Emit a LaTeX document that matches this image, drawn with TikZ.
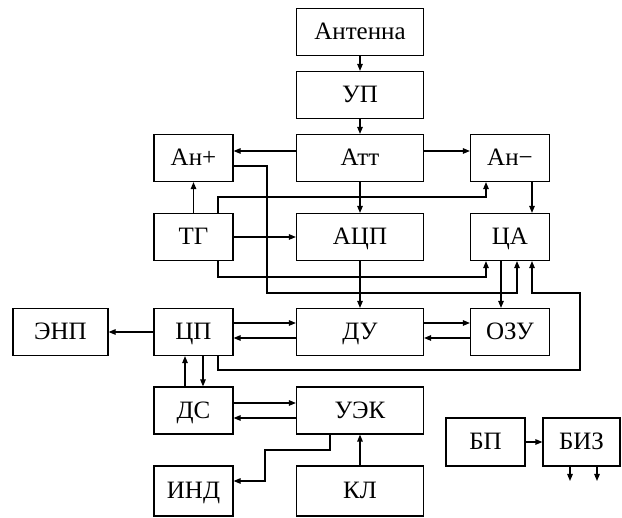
\documentclass[tikz,border=0pt]{standalone}
\usepackage{fontspec}
\setmainfont{Liberation Serif}
\usetikzlibrary{arrows.meta}
\begin{document}
\begin{tikzpicture}[x=1pt,y=-1pt,
  blk/.style={draw,line width=1.2pt,rectangle,inner sep=0pt,minimum height=47pt,
    text height=16pt,text depth=0pt,font=\fontsize{25}{28}\selectfont},
  sbox/.style={blk,minimum width=79pt},
  wbox/.style={blk,minimum width=127pt},
  arr/.style={line width=1.2pt,-{Triangle[length=7pt,width=5.5pt]}},
  ln/.style={line width=1.2pt}]
\useasboundingbox (0,0) rectangle (622,518);
% boxes
\node[wbox] (ant) at (360,32) {Антенна};
\node[wbox] (up)  at (360,95) {УП};
\node[wbox] (att) at (360,158) {Атт};
\node[sbox] (anp) at (193.5,158) {Ан+};
\node[sbox] (anm) at (510,158) {Ан−};
\node[sbox] (tg)  at (193.5,237) {ТГ};
\node[wbox] (adc) at (360,237) {АЦП};
\node[sbox] (ca)  at (510,237) {ЦА};
\node[sbox] (cp)  at (193.5,332) {ЦП};
\node[blk,minimum width=95pt] (enp) at (60.5,332) {ЭНП};
\node[wbox] (du)  at (360,332) {ДУ};
\node[sbox] (ozu) at (510,332) {ОЗУ};
\node[sbox] (ds)  at (193.5,410.5) {ДС};
\node[wbox] (uek) at (360,410.5) {УЭК};
\node[sbox,minimum height=50pt] (ind) at (193.5,491) {ИНД};
\node[wbox,minimum height=50pt] (kl)  at (360,491) {КЛ};
\node[sbox,minimum height=48pt] (bp)  at (485.5,442) {БП};
\node[sbox,minimum width=77pt,minimum height=48pt] (biz) at (581.5,442) {БИЗ};
\coordinate (o1) at (570,481);
\coordinate (o2) at (597,481);
% connectors
\draw[arr] (ant) -- (up);
\draw[arr] (up) -- (att);
\draw[arr] (att.west |- 0,151) -- (anp.east |- 0,151);
\draw[arr] (att.east |- 0,151) -- (anm.west |- 0,151);
\draw[arr] (att) -- (adc);
\draw[arr] (tg) -- (anp);
\draw[arr] (tg.east |- 0,237) -- (adc.west |- 0,237);
\draw[arr] (tg.north -| 218,0) |- (486,197) -- (anm.south -| 486,0);
\draw[arr] (tg.south -| 218,0) |- (486,277) -- (ca.south -| 486,0);
\draw[arr] (anp.east |- 0,166) -| (267,293) -| (ca.south -| 517,0);
\draw[arr] (anm.south -| 532,0) -- (ca.north -| 532,0);
\draw[arr] (ca.south -| 501,0) -- (ozu.north -| 501,0);
\draw[arr] (adc) -- (du);
\draw[arr] (cp.south -| 218,0) |- (580,370) |- (532,293) -- (ca.south -| 532,0);
\draw[arr] (cp.east |- 0,323) -- (du.west |- 0,323);
\draw[arr] (du.west |- 0,338) -- (cp.east |- 0,338);
\draw[arr] (cp) -- (enp);
\draw[arr] (du.east |- 0,323) -- (ozu.west |- 0,323);
\draw[arr] (ozu.west |- 0,338) -- (du.east |- 0,338);
\draw[arr] (ds.north -| 185,0) -- (cp.south -| 185,0);
\draw[arr] (cp.south -| 203,0) -- (ds.north -| 203,0);
\draw[arr] (ds.east |- 0,403) -- (uek.west |- 0,403);
\draw[arr] (uek.west |- 0,418) -- (ds.east |- 0,418);
\draw[arr] (uek.south -| 330,0) |- (265,450) |- (ind.east |- 0,481);
\draw[arr] (kl) -- (uek);
\draw[arr] (bp) -- (biz);
\draw[arr] (biz.south -| o1) -- (o1);
\draw[arr] (biz.south -| o2) -- (o2);
\end{tikzpicture}
\end{document}
